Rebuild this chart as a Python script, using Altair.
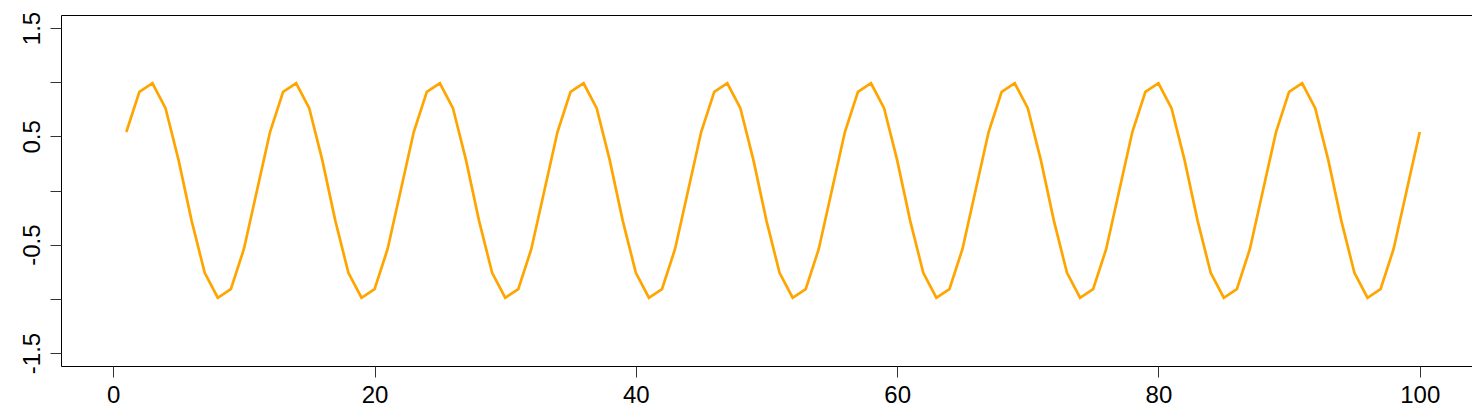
import altair as alt
import pandas as pd

x_values = list(range(1, 101))
y_values = [
    0.54, 0.91, 0.99, 0.76, 0.28, -0.28, -0.76, -0.99, -0.91, -0.54, 0.00,
    0.54, 0.91, 0.99, 0.76, 0.28, -0.28, -0.76, -0.99, -0.91, -0.54, 0.00,
    0.54, 0.91, 0.99, 0.76, 0.28, -0.28, -0.76, -0.99, -0.91, -0.54, 0.00,
    0.54, 0.91, 0.99, 0.76, 0.28, -0.28, -0.76, -0.99, -0.91, -0.54, 0.00,
    0.54, 0.91, 0.99, 0.76, 0.28, -0.28, -0.76, -0.99, -0.91, -0.54, 0.00,
    0.54, 0.91, 0.99, 0.76, 0.28, -0.28, -0.76, -0.99, -0.91, -0.54, 0.00,
    0.54, 0.91, 0.99, 0.76, 0.28, -0.28, -0.76, -0.99, -0.91, -0.54, 0.00,
    0.54, 0.91, 0.99, 0.76, 0.28, -0.28, -0.76, -0.99, -0.91, -0.54, 0.00,
    0.54, 0.91, 0.99, 0.76, 0.28, -0.28, -0.76, -0.99, -0.91, -0.54, 0.00,
    0.54,
]
x_ticks = [0, 20, 40, 60, 80, 100]
y_ticks = [-1.5, -1.0, -0.5, 0.0, 0.5, 1.0, 1.5]
y_tick_labels = ["-1.5", "", "-0.5", "", "0.5", "", "1.5"]

df = pd.DataFrame({"x": x_values, "y": y_values})

label_expr = " : ".join(
    f"datum.value == {v} ? '{lab}'" for v, lab in zip(y_ticks, y_tick_labels)
) + " : ''"

FONT = "Liberation Sans"

chart = alt.Chart(df).mark_line(color="#FFA500", strokeWidth=2.7).encode(
    x=alt.X(
        "x:Q",
        scale=alt.Scale(domain=[-4, 104], nice=False, zero=False),
        axis=alt.Axis(
            values=x_ticks, format="d", title=None, grid=False, domain=False,
            tickSize=11, tickColor="#333333", tickWidth=1,
            labelFont=FONT, labelFontSize=24, labelColor="#000000",
            labelPadding=6, labelBaseline="top", labelFlush=False,
        ),
    ),
    y=alt.Y(
        "y:Q",
        scale=alt.Scale(domain=[-1.62, 1.62], nice=False, zero=False),
        axis=alt.Axis(
            values=y_ticks, labelExpr=label_expr, title=None, grid=False,
            domain=False, tickSize=11, tickColor="#333333", tickWidth=1,
            labelFont=FONT, labelFontSize=24, labelColor="#000000",
            labelAngle=270, labelAlign="center", labelBaseline="alphabetic",
            labelPadding=11, labelFlush=False, labelOverlap=False,
        ),
    ),
).properties(
    width=1411,
    height=351,
    padding={"left": 53, "top": 7, "right": 0, "bottom": 41},
    autosize=alt.AutoSizeParams(type="none"),
).configure_view(
    stroke="#000000", strokeWidth=1
)

chart.save("out.html", embed_options={"renderer": "svg", "actions": False})
